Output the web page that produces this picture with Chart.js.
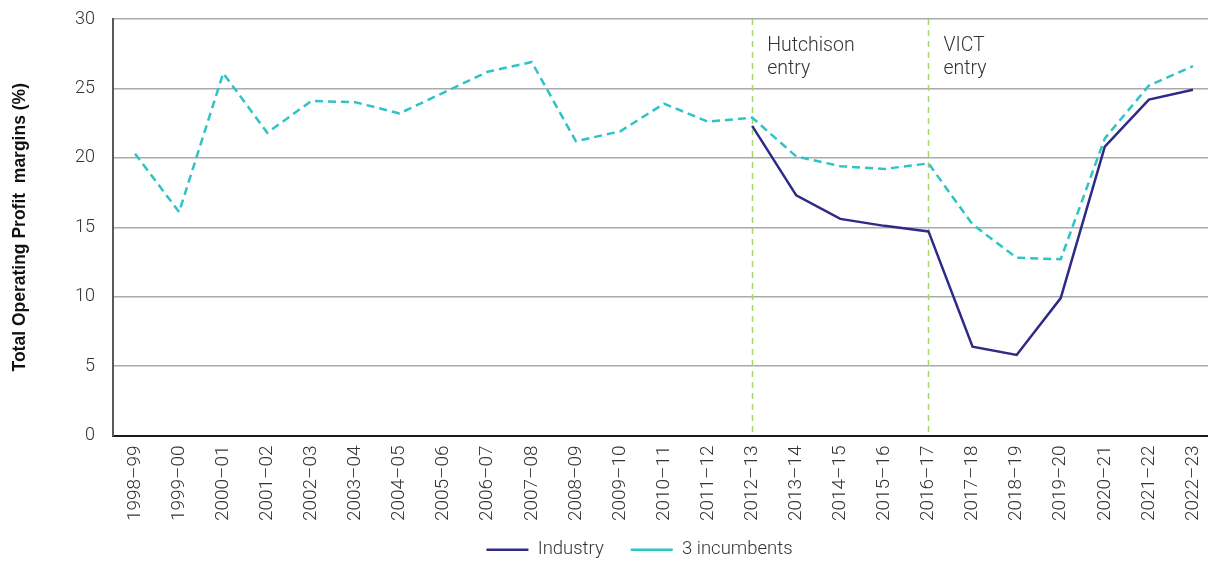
<!DOCTYPE html>
<html>
<head>
<meta charset="utf-8">
<script src="https://cdn.jsdelivr.net/npm/chart.js@4/dist/chart.umd.min.js"></script>
<style>
  html, body { margin: 0; padding: 0; background: #fff; overflow: hidden; }
  #wrap { position: relative; width: 1216px; height: 561px; }
</style>
</head>
<body>
<div id="wrap"><canvas id="chart"></canvas></div>
<script>
// Financial years on the category axis
const years = [
  '1998–99', '1999–00', '2000–01', '2001–02', '2002–03', '2003–04', '2004–05',
  '2005–06', '2006–07', '2007–08', '2008–09', '2009–10', '2010–11', '2011–12',
  '2012–13', '2013–14', '2014–15', '2015–16', '2016–17', '2017–18', '2018–19',
  '2019–20', '2020–21', '2021–22', '2022–23'
];

// Total operating profit margins (%)
const industry = [
  null, null, null, null, null, null, null, null, null, null, null, null, null, null,
  22.3, 17.3, 15.6, 15.1, 14.7, 6.4, 5.8, 9.9, 20.8, 24.2, 24.9
];
const incumbents = [
  20.3, 16.1, 26.1, 21.8, 24.1, 24.0, 23.2, 24.7, 26.2, 26.9, 21.2, 21.9, 23.9, 22.6,
  22.9, 20.1, 19.4, 19.2, 19.6, 15.2, 12.8, 12.7, 21.4, 25.2, 26.6
];

// Market entry events marked with vertical lines
const entryYears = ['2012–13', '2016–17'];
const entryLabels = [['Hutchison', 'entry'], ['VICT', 'entry']];

const yTicks = { min: 0, max: 30, step: 5 };

const FONT = 'Roboto, "Liberation Sans", sans-serif';

const entryPlugin = {
  id: 'entryMarkers',
  beforeDatasetsDraw(chart) {
    const { ctx, chartArea, scales } = chart;
    ctx.save();
    ctx.strokeStyle = '#a9d46e';
    ctx.lineWidth = 1.5;
    ctx.setLineDash([6, 5]);
    entryYears.forEach((yr) => {
      const x = Math.round(scales.x.getPixelForValue(years.indexOf(yr))) + 0.5;
      ctx.beginPath();
      ctx.moveTo(x, chartArea.top);
      ctx.lineTo(x, chartArea.bottom);
      ctx.stroke();
    });
    ctx.restore();
  },
  afterDatasetsDraw(chart) {
    const { ctx, chartArea, scales } = chart;
    ctx.save();
    ctx.fillStyle = '#333333';
    ctx.font = '300 19.5px ' + FONT;
    ctx.textBaseline = 'middle';
    ctx.textAlign = 'left';
    entryYears.forEach((yr, i) => {
      const x = scales.x.getPixelForValue(years.indexOf(yr)) + 15;
      entryLabels[i].forEach((line, j) => {
        ctx.fillText(line, x, chartArea.top + 27 + j * 23);
      });
    });
    ctx.restore();
  },
  afterLayout(chart) {
    // let the rotated year labels run past the x scale box
    chart.scales.x.bottom = chart.height;
    // nudge the legend so it sits under the plot area
    const lg = chart.legend;
    if (lg) {
      lg.left += 32; lg.right += 32;
      lg.top += 8; lg.bottom += 8;
    }
  }
};

new Chart(document.getElementById('chart'), {
  type: 'line',
  data: {
    labels: years,
    datasets: [
      {
        label: 'Industry',
        data: industry,
        borderColor: '#2f2a86',
        backgroundColor: '#2f2a86',
        borderWidth: 2.5,
        pointRadius: 0,
        tension: 0,
        spanGaps: false
      },
      {
        label: '3 incumbents',
        data: incumbents,
        borderColor: '#2ec3c7',
        backgroundColor: '#2ec3c7',
        borderWidth: 2.5,
        borderDash: [8, 5],
        pointRadius: 0,
        tension: 0
      }
    ]
  },
  options: {
    responsive: true,
    maintainAspectRatio: false,
    animation: false,
    devicePixelRatio: 1,
    layout: { autoPadding: false, padding: { top: 19, right: 1, left: 0, bottom: 0 } },
    plugins: {
      legend: {
        position: 'bottom',
        labels: {
          usePointStyle: true,
          pointStyle: 'line',
          pointStyleWidth: 42,
          boxHeight: 10,
          padding: 27,
          color: '#333333',
          font: { family: FONT, size: 18.5, weight: '300' }
        }
      },
      tooltip: { enabled: false }
    },
    scales: {
      x: {
        type: 'category',
        offset: true,
        grid: { display: false, drawTicks: false },
        border: { display: true, color: '#1a1a1a', width: 2 },
        ticks: {
          maxRotation: 90,
          minRotation: 90,
          autoSkip: false,
          padding: 10,
          color: '#333333',
          font: { family: FONT, size: 19, weight: '300' }
        },
        afterFit(scale) {
          scale.height = 70;
          scale.paddingLeft = 0;
          scale.paddingRight = 0;
        }
      },
      y: {
        min: yTicks.min,
        max: yTicks.max,
        ticks: {
          stepSize: yTicks.step,
          padding: 18,
          color: '#333333',
          font: { family: FONT, size: 18, weight: '300' }
        },
        grid: { color: '#aaaaaa', lineWidth: 1.5, drawTicks: false },
        border: { display: true, color: '#595959', width: 2 },
        title: {
          display: true,
          text: 'Total Operating Profit  margins (%)',
          color: '#111111',
          padding: { top: 10, bottom: 0 },
          font: { family: '"Liberation Sans", Arial, sans-serif', size: 17.5, weight: 'bold' }
        },
        afterFit(scale) {
          scale.width = 113;
          scale.paddingTop = 0;
          scale.paddingBottom = 0;
        }
      }
    }
  },
  plugins: [entryPlugin]
});
</script>
</body>
</html>
